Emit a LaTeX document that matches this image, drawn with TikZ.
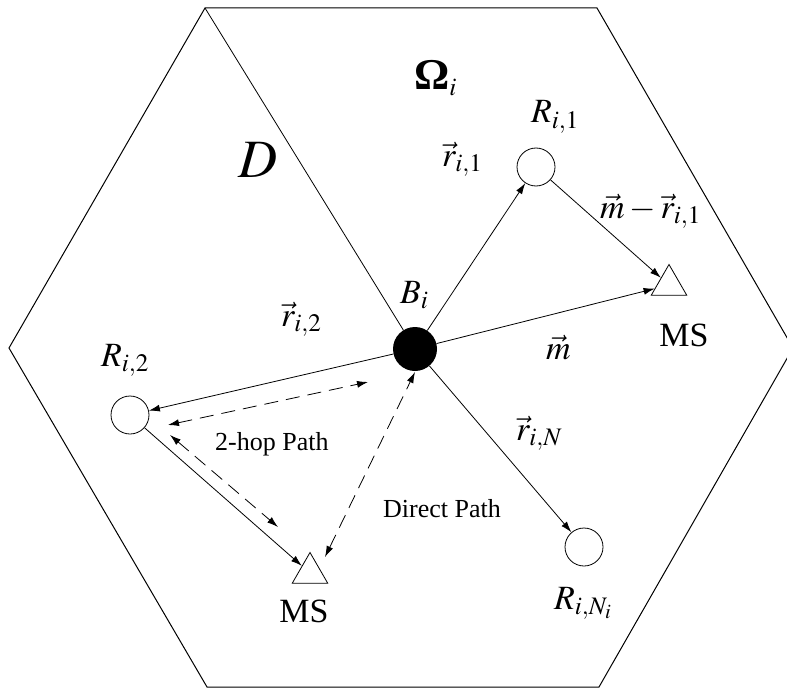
\documentclass[tikz,border=0pt]{standalone}
\usepackage{amsmath}
\usepackage{mathptmx}
\usepackage{fontspec}
\setmainfont{Liberation Serif}
\usetikzlibrary{positioning, shapes.geometric, arrows.meta, calc}

\begin{document}
\begin{tikzpicture}[
    x=1pt, y=-1pt,
    relay/.style={draw, circle, minimum size=38pt, inner sep=0pt, line width=0.8pt},
    bstation/.style={circle, fill=black, minimum size=44pt, inner sep=0pt},
    mobile/.style={draw, regular polygon, regular polygon sides=3, minimum size=41pt, inner sep=0pt, line width=0.8pt},
    arrow/.style={-{Latex[length=11pt, width=7pt]}, line width=0.8pt},
    dpath/.style={{Latex[length=11pt, width=7pt]}-{Latex[length=11pt, width=7pt]}, line width=0.8pt, dash pattern=on 14pt off 8pt},
    mathlbl/.style={font=\fontsize{34}{40}\selectfont, inner sep=0pt, anchor=base west},
    pathtxt/.style={font=\fontsize{26}{30}\selectfont, inner sep=0pt, anchor=base west},
    mstxt/.style={font=\fontsize{34}{40}\selectfont, inner sep=0pt}
]
\useasboundingbox (0,0) rectangle (787,690);

% Cell border
\coordinate (hl) at (9,348);
\coordinate (htl) at (205,8);
\coordinate (htr) at (597,8);
\coordinate (hr) at (793,348);
\coordinate (hbr) at (599,687);
\coordinate (hbl) at (207,687);
\draw[line width=1pt] (hl) -- (htl) -- (htr) -- (hr) -- (hbr) -- (hbl) -- cycle;

% Stations
\node[bstation] (bs) at (415,349) {};
\node[relay] (r1) at (536,167) {};
\node[relay] (r2) at (130,415) {};
\node[relay] (rn) at (584,547) {};
\node[mobile] (msr) at (669,285) {};
\node[mobile] (msl) at (310,573) {};

% Region split
\draw[line width=0.8pt] (htl) -- (bs);

% Vectors
\draw[arrow] (bs) -- (r1);
\draw[arrow] (r1) -- (msr);
\draw[arrow] (bs) -- (msr);
\draw[arrow] (bs) -- (r2);
\draw[arrow] (r2) -- (msl);
\draw[arrow] (bs) -- (rn);

% Paths
\coordinate (hopa) at (168,425);
\coordinate (hopb) at (368,382);
\coordinate (hopc) at (170,435);
\coordinate (hopd) at (278,527);
\coordinate (dira) at (325,557);
\coordinate (dirb) at (415,372);
\draw[dpath] (hopa) -- (hopb);
\draw[dpath] (hopc) -- (hopd);
\draw[dpath] (dira) -- (dirb);

% Labels
\node[mathlbl] (lom) at (414,90) {$\mbox{\fontsize{44}{46}\selectfont\bfseries Ω}_i$};
\node[mathlbl, font=\fontsize{54}{60}\selectfont] (ld) at (238,177) {$D$};
\node[mathlbl] (lr1) at (531,123) {$R_{i,1}$};
\node[mathlbl] (lv1) at (442,166) {$\vec r_{i,1}$};
\node[mathlbl] (lmr) at (600,218) {$\vec m-\vec r_{i,1}$};
\node[mathlbl] (lbs) at (400,303) {$B_i$};
\node[mathlbl] (lv2) at (281,326) {$\vec r_{i,2}$};
\node[mathlbl] (lr2) at (101,366) {$R_{i,2}$};
\node[mathlbl] (lm) at (546,359) {$\vec m$};
\node[mathlbl] (lvn) at (516,440) {$\vec r_{i,N}$};
\node[mathlbl] (lrn) at (554,609) {$R_{i,N_i}$};
\node[pathtxt] (lhop) at (215,450) {2-hop Path};
\node[pathtxt] (ldir) at (383,517) {Direct Path};
\node[mstxt, below=28pt of msr, xshift=15pt] (lmsr) {MS};
\node[mstxt, below=16pt of msl, xshift=-6pt] (lmsl) {MS};

\end{tikzpicture}
\end{document}
